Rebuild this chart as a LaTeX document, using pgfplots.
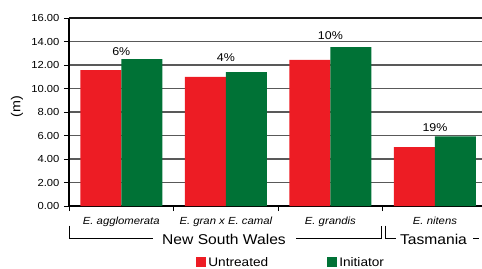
\documentclass[border=0pt]{standalone}
\usepackage{pgfplots}
\pgfplotsset{compat=1.18}
\usepackage{fontspec}
\setmainfont{Liberation Sans}[FakeStretch=1.1]
\definecolor{ured}{RGB}{237,28,36}
\definecolor{igreen}{RGB}{0,114,54}
\begin{document}
\begin{tikzpicture}
\begin{axis}[
  scale only axis, width=413pt, height=188pt,
  at={(0,0)}, anchor=south west,
  xmin=-0.5, xmax=3.45, ymin=0, ymax=16,
  axis x line=bottom, axis y line=left,
  axis line style={black, line width=1.1pt, -},
  ybar=0pt, bar width=41pt,
  xtick={-0.5,0.5,1.5,2.5}, xticklabels={},
  tick align=outside, major tick length=5pt,
  tick style={black, line width=0.9pt},
  ytick={0,2,...,14},
  extra y ticks={16},
  extra y tick style={grid style={black!90, line width=1.2pt}},
  ymajorgrids, grid style={black!65, line width=1.1pt},
  yticklabel style={font=\fontsize{10.2}{12}\selectfont, xshift=-1pt},
  /pgf/number format/.cd, fixed, fixed zerofill, precision=2, assume math mode=true, /pgfplots/.cd,
  extra x ticks={0,1,2,3},
  extra x tick labels={E. agglomerata, E. gran x E. camal, E. grandis, E. nitens},
  extra x tick style={major tick length=0pt, grid=none,
     xticklabel style={font=\fontsize{10.3}{12}\selectfont\itshape, yshift=-7.5pt}},
  ylabel={\fontsize{13}{14}\selectfont (m)},
  ylabel style={at={(axis description cs:-0.126,0.527)}, anchor=center},
  legend style={draw=none, fill=none, at={(axis description cs:0.538,-0.30)}, anchor=center,
     font=\fontsize{12.4}{14}\selectfont, /tikz/every even column/.append style={column sep=57pt}},
  legend columns=2,
  legend image code/.code={\fill[#1] (-2pt,-4.5pt) rectangle (8pt,5.5pt);},
]
\addplot[fill=ured, draw=none] coordinates {(0,11.57) (1,10.98) (2,12.43) (3,5.02)};
\addplot[fill=igreen, draw=none] coordinates {(0,12.51) (1,11.40) (2,13.53) (3,5.93)};
\legend{Untreated, Initiator}
\node[anchor=base, font=\fontsize{11.3}{13}\selectfont] at (axis cs:0,12.85) {6\%};
\node[anchor=base, font=\fontsize{11.3}{13}\selectfont] at (axis cs:1,12.34) {4\%};
\node[anchor=base, font=\fontsize{11.3}{13}\selectfont] at (axis cs:2,14.19) {10\%};
\node[anchor=base, font=\fontsize{11.3}{13}\selectfont] at (axis cs:3,6.38) {19\%};
\end{axis}
\draw[black, line width=0.9pt] (0.5pt,-19.7pt) -- (0.5pt,-32.3pt) -- (83.7pt,-32.3pt);
\draw[black, line width=0.9pt] (227pt,-32.3pt) -- (312pt,-32.3pt) -- (312pt,-19.7pt);
\draw[black, line width=0.9pt] (316pt,-19.7pt) -- (316pt,-32.3pt) -- (327pt,-32.3pt);
\draw[black, line width=0.9pt] (404pt,-32.3pt) -- (410pt,-32.3pt);
\node[anchor=base, font=\fontsize{14.2}{16}\selectfont, inner sep=0pt] at (155pt,-38pt) {New South Wales};
\node[anchor=base, font=\fontsize{14.2}{16}\selectfont, inner sep=0pt] at (364.5pt,-38pt) {Tasmania};
\pgfresetboundingbox
\useasboundingbox (-69pt,-62pt) rectangle (413pt,206pt);
\end{tikzpicture}
\end{document}
